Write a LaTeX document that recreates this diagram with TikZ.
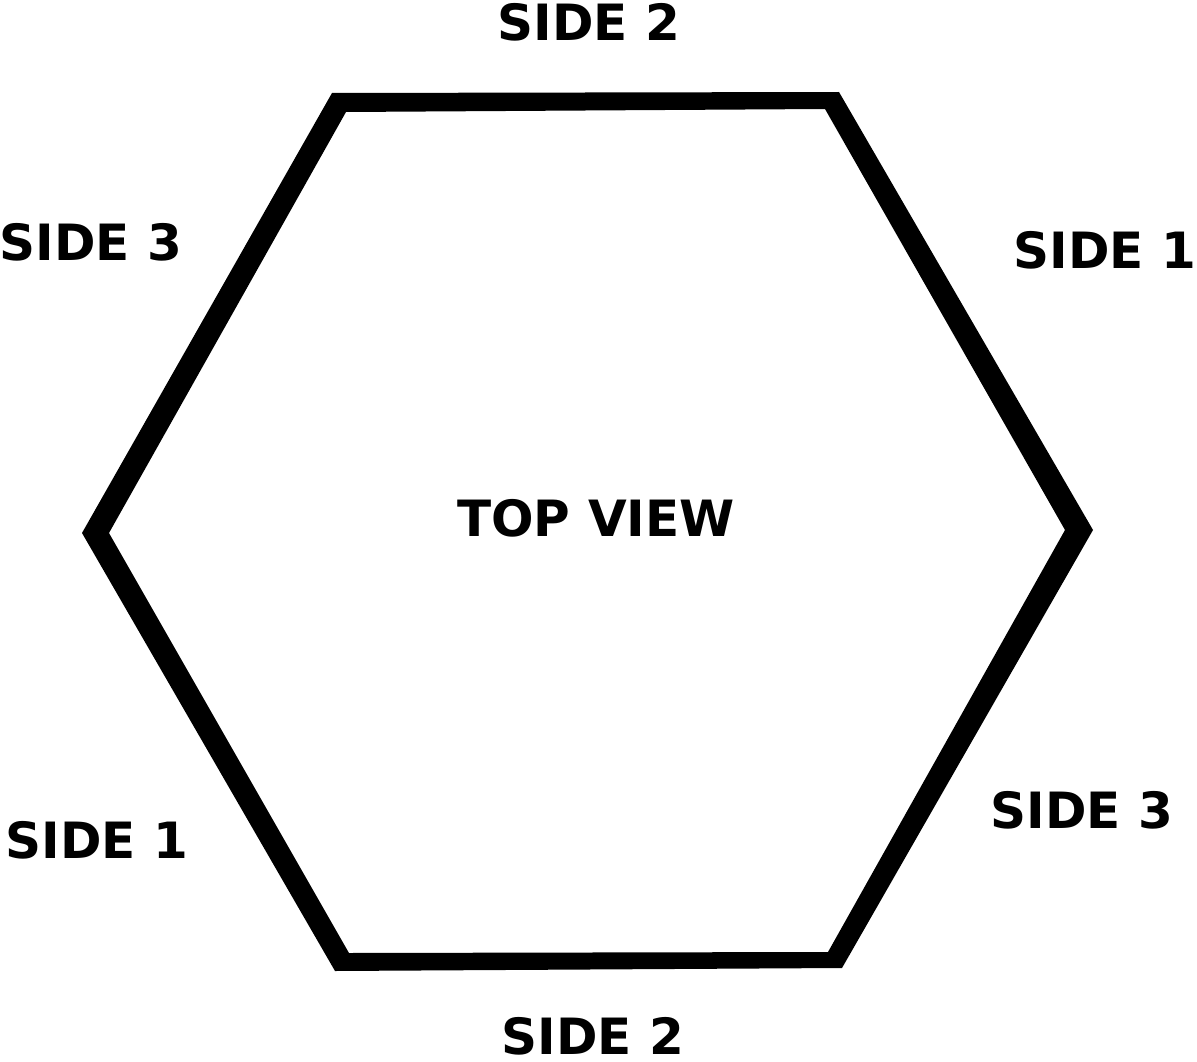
\documentclass[tikz,border=0pt]{standalone}
\usepackage{fontspec}
\setmainfont{DejaVu Sans}

\begin{document}
\begin{tikzpicture}
  [x=1pt,y=-1pt,every node/.style={inner sep=0pt,text height=36.5pt,text depth=0pt,
    font=\fontsize{50}{60}\selectfont\bfseries}]
  \useasboundingbox (0,0) rectangle (1197,1062);

  % outer corners
  \coordinate (o1) at (332,93);
  \coordinate (o2) at (839,92);
  \coordinate (o3) at (1093,530);
  \coordinate (o4) at (842,968);
  \coordinate (o5) at (335,971);
  \coordinate (o6) at (82,533);
  % inner corners
  \coordinate (i1) at (346,112);
  \coordinate (i2) at (825,109);
  \coordinate (i3) at (1065,530);
  \coordinate (i4) at (828,952);
  \coordinate (i5) at (349,953);
  \coordinate (i6) at (109,533);

  \fill[black,even odd rule] (o1) -- (o2) -- (o3) -- (o4) -- (o5) -- (o6) -- cycle
    (i1) -- (i2) -- (i3) -- (i4) -- (i5) -- (i6) -- cycle;

  \foreach \name/\x/\y/\txt in {top2/589/22/SIDE 2,lt3/91/242/SIDE 3,rt1/1105/250/SIDE 1,
      view/596/518/TOP VIEW,lb1/97/840/SIDE 1,rb3/1082/810/SIDE 3,bot2/593/1036/SIDE 2}
    \node (\name) at (\x,\y) {\txt};

\end{tikzpicture}
\end{document}
